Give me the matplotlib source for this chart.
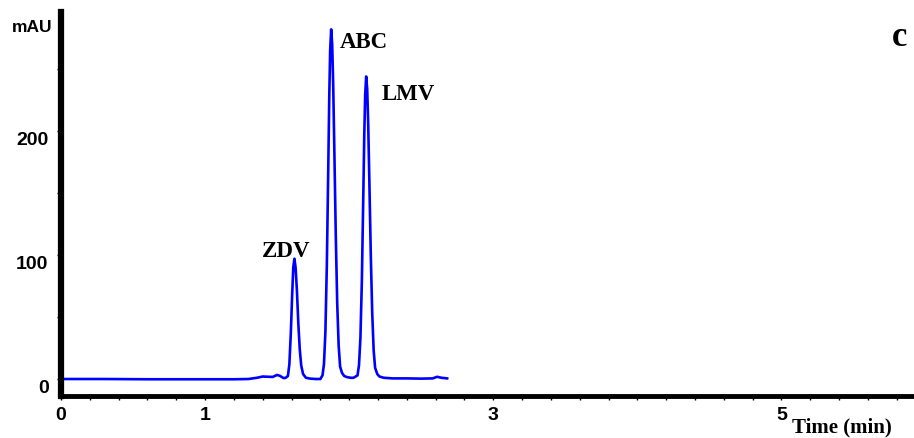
import numpy as np
import matplotlib
matplotlib.use('Agg')
import matplotlib.pyplot as plt
from matplotlib.ticker import MultipleLocator, FuncFormatter
import matplotlib.transforms as mtransforms

# chromatogram trace (time in min, absorbance in mAU)
time_min = [0.00, 0.30, 0.60, 0.90, 1.20, 1.30, 1.36, 1.40, 1.44, 1.47, 1.50, 1.52,
            1.545, 1.56, 1.575, 1.585, 1.595, 1.605, 1.612, 1.62, 1.628, 1.637,
            1.647, 1.657, 1.667, 1.68, 1.70, 1.73, 1.77, 1.80, 1.815, 1.825,
            1.835, 1.845, 1.855, 1.862, 1.868, 1.875, 1.882, 1.889, 1.897, 1.907,
            1.917, 1.927, 1.937, 1.95, 1.965, 1.985, 2.01, 2.03, 2.045, 2.058,
            2.068, 2.078, 2.088, 2.098, 2.105, 2.111, 2.118, 2.125, 2.132, 2.14,
            2.15, 2.16, 2.17, 2.18, 2.195, 2.21, 2.24, 2.30, 2.40, 2.50, 2.58,
            2.61, 2.64, 2.68]
mau = [0.0, 0.0, -0.2, -0.2, -0.2, 0.0, 1.0, 2.0, 1.8, 1.7, 3.3, 2.5,
       0.7, 1.0, 2.5, 12, 37, 70, 90, 97, 90, 72,
       45, 24, 11, 4, 1.0, 0.3, 0.0, 0.0, 3, 12,
       38, 92, 171, 229, 265, 282, 270, 238, 185, 116,
       61, 27, 10, 5, 2.5, 1.5, 1.0, 1.0, 2.0, 3,
       11, 33, 79, 148, 198, 229, 244, 234, 206, 160,
       100, 53, 23, 9, 4, 2.0, 1.0, 0.5, 0.5, 0.3, 0.5,
       1.8, 1.0, 0.5]

peak_names = ['ZDV', 'ABC', 'LMV']
peak_label_t = [1.565, 2.10, 2.41]
peak_label_y = [104, 272, 230]

xtick_vals = [0, 1, 3, 5]
ytick_vals = [0, 100, 200]

fig = plt.figure(figsize=(9.14, 4.39), dpi=100)
ax = fig.add_axes([61 / 914, 1 - 397 / 439, 1 - 61 / 914, (397 - 13) / 439])
ax.plot(time_min, mau, color='#0000ff', lw=1.9, solid_joinstyle='round')

ax.set_xlim(0, 5.92)
ax.set_ylim(-13.7, 296)

for s in ['top', 'right']:
    ax.spines[s].set_visible(False)
ax.spines['left'].set_linewidth(4.5)
ax.spines['bottom'].set_linewidth(3.5)

ax.xaxis.set_major_locator(MultipleLocator(1))
ax.xaxis.set_minor_locator(MultipleLocator(0.2))
ax.yaxis.set_major_locator(MultipleLocator(50))
ax.xaxis.set_major_formatter(FuncFormatter(lambda v, p: '%d' % round(v) if round(v) in xtick_vals and abs(v - round(v)) < 1e-6 else ''))
ax.yaxis.set_major_formatter(FuncFormatter(lambda v, p: '%d' % round(v) if round(v) in ytick_vals else ''))
ax.tick_params(axis='both', which='both', direction='out', length=3, width=1)
ax.tick_params(axis='x', pad=4)
ax.tick_params(axis='y', pad=6)

for lab in ax.get_xticklabels() + ax.get_yticklabels():
    lab.set_fontfamily('Liberation Sans')
    lab.set_fontweight('bold')
    lab.set_fontsize(14)
# y labels sit a bit below their ticks in the original
off = mtransforms.ScaledTranslation(0, -6 / 100, fig.dpi_scale_trans)
for lab in ax.get_yticklabels():
    lab.set_transform(lab.get_transform() + off)

for name, tx, ty in zip(peak_names, peak_label_t, peak_label_y):
    ax.text(tx, ty, name, ha='center', va='center', fontsize=16.5,
            fontweight='bold', family='Liberation Serif')

fig.text(12 / 914, 1 - 27 / 439, 'mAU', ha='left', va='center', fontsize=12.5,
         fontweight='bold', family='Liberation Sans')
fig.text(900 / 914, 1 - 38 / 439, 'c', ha='center', va='center', fontsize=25,
         fontweight='bold', family='Liberation Serif')
fig.text(842 / 914, 1 - 427 / 439, 'Time (min)', ha='center', va='center', fontsize=15,
         fontweight='bold', family='Liberation Serif')

fig.savefig('out.png', dpi=100)
